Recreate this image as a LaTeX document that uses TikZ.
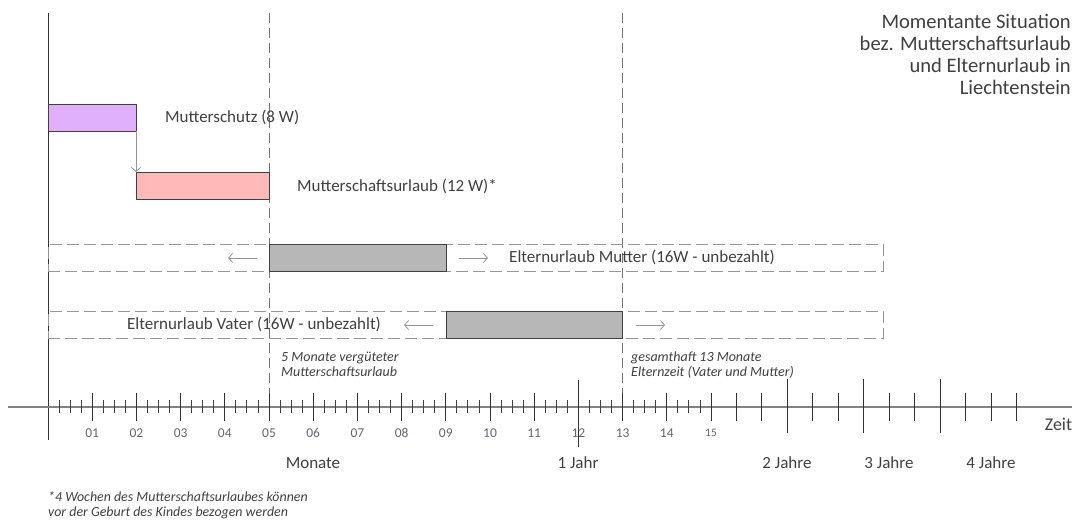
\documentclass[tikz,border=0pt]{standalone}
\usepackage{fontspec}
\setmainfont{Carlito}
\usetikzlibrary{arrows.meta}
\definecolor{txt}{RGB}{64,64,64}
\definecolor{numc}{RGB}{100,100,118}
\definecolor{lav}{RGB}{224,176,252}
\definecolor{pinkbar}{RGB}{255,185,185}
\definecolor{graybar}{RGB}{183,183,183}
\definecolor{dashc}{RGB}{150,150,150}
\definecolor{axisc}{RGB}{130,130,130}
\tikzset{
  bar/.style={draw=black!75, line width=0.9pt, inner sep=0pt, outer sep=0pt, anchor=north west, minimum height=27pt},
  dbox/.style={draw=dashc, line width=0.9pt, dash pattern=on 12pt off 5pt, inner sep=0pt, outer sep=0pt, anchor=north west, minimum height=27pt, minimum width=835pt},
  lbl/.style={text=txt, font=\fontsize{17}{20}\selectfont, inner sep=0pt, anchor=west},
  note/.style={text=txt, font=\fontsize{14}{15}\selectfont\itshape, inner sep=0pt, anchor=north west, align=left},
  garrow/.style={draw=dashc, line width=0.8pt, -{Straight Barb[length=4pt,width=9pt]}},
  vdash/.style={draw=black!55, line width=0.9pt, dash pattern=on 10pt off 5pt},
  minor/.style={draw=black!75, line width=0.9pt},
  major/.style={draw=black!80, line width=1pt},
  num/.style={text=numc, font=\fontsize{13.5}{15}\selectfont, inner sep=0pt},
  unit/.style={text=txt, font=\fontsize{17}{20}\selectfont, inner sep=0pt},
}
\begin{document}
\begin{tikzpicture}[x=1pt,y=-1pt]
\useasboundingbox (0,0) rectangle (1077,521);

% vertical guide lines
\coordinate (l0) at (48,13);
\coordinate (l1) at (48,440);
\draw[draw=black!80, line width=1pt] (l0) -- (l1);
\coordinate (v5a) at (269,13);
\coordinate (v5b) at (269,403);
\draw[vdash] (v5a) -- (v5b);
\coordinate (v13a) at (622,13);
\coordinate (v13b) at (622,393);
\draw[vdash] (v13a) -- (v13b);

% title
\node[text=txt, font=\fontsize{20.6}{21.7}\selectfont, align=right, anchor=north east, inner sep=0pt] (title) at (1071,14.5)
  {Momentante Situation\\bez. Mutterschaftsurlaub\\und Elternurlaub in\\Liechtenstein};

% Mutterschutz
\node[bar, fill=lav, minimum width=88pt] (ms) at (48,104) {};
\node[lbl] (msl) at (165,117.5) {Mutterschutz (8 W)};
% Mutterschaftsurlaub
\node[bar, fill=pinkbar, minimum width=133pt] (mu) at (136,172) {};
\node[lbl] (mul) at (297,186) {Mutterschaftsurlaub (12 W)*};
\draw[garrow] (ms.south east) -- (mu.north west);

% Elternurlaub Mutter
\node[dbox] (em) at (48,244) {};
\node[bar, fill=graybar, minimum width=177pt] (emb) at (269,244) {};
\coordinate (ema1) at (257,258);
\coordinate (ema2) at (228,258);
\draw[garrow] (ema1) -- (ema2);
\coordinate (ema3) at (459,258);
\coordinate (ema4) at (488,258);
\draw[garrow] (ema3) -- (ema4);
\node[lbl] (eml) at (509,257.5) {Elternurlaub Mutter (16W - unbezahlt)};

% Elternurlaub Vater
\node[dbox] (ev) at (48,311) {};
\node[bar, fill=graybar, minimum width=176pt] (evb) at (446,311) {};
\coordinate (eva1) at (433,325);
\coordinate (eva2) at (404,325);
\draw[garrow] (eva1) -- (eva2);
\coordinate (eva3) at (636,325);
\coordinate (eva4) at (665,325);
\draw[garrow] (eva3) -- (eva4);
\node[lbl, anchor=center] (evl) at (254,324.5) {Elternurlaub Vater (16W - unbezahlt)};

% notes
\node[note] (n5) at (281,351.5) {5 Monate vergüteter\\Mutterschaftsurlaub};
\node[note] (n13) at (631,351.5) {gesamthaft 13 Monate\\Elternzeit (Vater und Mutter)};

% axis
\coordinate (ax0) at (8,407);
\coordinate (ax1) at (1072,407);
\draw[draw=axisc, line width=1.6pt] (ax0) -- (ax1);
\foreach \m in {0,...,14}
  \foreach \k in {1,2,3}
    \draw[minor] ({48+44.2*(\m+\k/4)},400) -- ++(0,13);
\foreach \m in {1,...,11,13,14,15}
  \draw[major] ({48+44.2*\m},393) -- ++(0,28);
\draw[major] ({48+44.2*12},380) -- ++(0,67);
\foreach \j in {1,2,4,5,7,8,10,11,12}
  \draw[major] ({710.9+25.5*\j},393) -- ++(0,28);
\foreach \j in {3,6,9}
  \draw[major] ({710.9+25.5*\j},379) -- ++(0,54);

% month labels
\foreach \m/\l in {1/01,2/02,3/03,4/04,5/05,6/06,7/07,8/08,9/09,10/10,11/11,12/12,13/13,14/14}
  \node[num] (m\m) at ({48+44.2*\m},433) {\l};
\node[num, font=\fontsize{11.5}{13}\selectfont] (m15) at (711,433) {15};
\node[unit, font=\fontsize{18}{20}\selectfont] (zeit) at (1058.5,424) {Zeit};

\node[unit] (mon) at (313,463) {Monate};
\node[unit] (y1) at (578,463) {1 Jahr};
\node[unit] (y2) at (787,463) {2 Jahre};
\node[unit] (y3) at (889,463) {3 Jahre};
\node[unit] (y4) at (991,463) {4 Jahre};

% footnote
\node[note, font=\fontsize{13.9}{15}\selectfont\itshape] (fn) at (48,491) {*4 Wochen des Mutterschaftsurlaubes können\\vor der Geburt des Kindes bezogen werden};
\end{tikzpicture}
\end{document}
